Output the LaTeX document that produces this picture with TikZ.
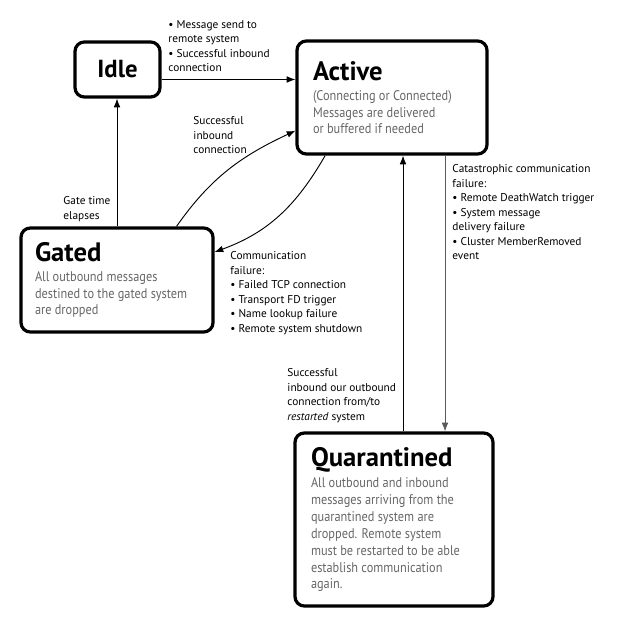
\documentclass[tikz,border=0pt]{standalone}
\usepackage{fontspec}
\setmainfont{PT Sans}
\newfontfamily\bodyfont{PT Sans}[FakeStretch=0.88]
\usetikzlibrary{arrows.meta,calc}

\definecolor{bodygray}{HTML}{666666}
\newcommand{\sttitle}[1]{{\color{black}\bfseries\fontsize{20}{22}\selectfont #1}\par\vspace{2.5pt}}
\newcommand{\stbody}{\bodyfont\color{bodygray}\fontsize{10.5}{12.75}\selectfont}

\begin{document}
\begin{tikzpicture}
  [x=0.75pt,y=-0.75pt,
   stateN/.style={draw,line width=2.4pt,rounded corners=7pt,align=flush left,
                  inner xsep=12pt,inner ysep=0pt},
   labelN/.style={anchor=north west,align=left,inner sep=0pt,
                  font=\fontsize{8.5}{10.9}\selectfont},
   >={Latex[length=6.5pt,width=5pt]},
   line width=0.7pt]

  \useasboundingbox (0,0) rectangle (620,627);

  % states
  \node at (117.5,69.5) [stateN,minimum width=63.75pt,minimum height=41.25pt,inner xsep=0pt,align=center]
        (idle) {\bfseries\fontsize{18.5}{20}\selectfont Idle};
  \node at (392,97.5) [stateN,text width=118.5pt,minimum height=84.75pt]
        (act) {\sttitle{Active}\stbody (Connecting or Connected)\\Messages are delivered\\or buffered if needed};
  \node at (117,280) [stateN,inner xsep=10.5pt,text width=123pt,minimum height=78pt]
        (gated) {\sttitle{Gated}\stbody All outbound messages\\destined to the gated system\\are dropped};
  \node at (394,519.5) [stateN,inner xsep=12pt,text width=124.5pt,minimum height=129.75pt]
        (quar) {\sttitle{Quarantined}\stbody All outbound and inbound\\messages arriving from the\\quarantined system are\\dropped. Remote system\\must be restarted to be able\\establish communication\\again.};

  % transitions
  \draw [->] ($(idle.east)+(0,10)$) coordinate (ia) -- (ia -| act.west);
  \draw [->] (gated.north) -- (gated.north |- idle.south);
  \draw [->] (gated.42) to [out=55,in=205] (act.199);
  \draw [->] (act.221) to [out=240,in=20] (gated.16);
  \draw [->] ($(quar.north)+(9,0)$) coordinate (qa) -- (qa |- act.south);
  \draw [->,black!65] ($(act.south)+(53,0)$) coordinate (aq) -- (aq |- quar.north);

  % labels
  \node at (168,20) [labelN] (lidle) {\textbullet{} Message send to\\remote system\\\textbullet{} Successful inbound\\connection};
  \node at (193,116) [labelN] (lsucc) {Successful\\inbound\\connection};
  \node at (63,196) [labelN] (lgate) {Gate time\\elapses};
  \node at (230,251) [labelN] (lcomm) {Communication\\failure:\\\textbullet{} Failed TCP connection\\\textbullet{} Transport FD trigger\\\textbullet{} Name lookup failure\\\textbullet{} Remote system shutdown};
  \node at (452,164) [labelN] (lcat) {Catastrophic communication\\failure:\\\textbullet{} Remote DeathWatch trigger\\\textbullet{} System message\\delivery failure\\\textbullet{} Cluster MemberRemoved\\event};
  \node at (287,368) [labelN] (lrest) {Successful\\inbound our outbound\\connection from/to\\\textit{restarted} system};
\end{tikzpicture}
\end{document}
